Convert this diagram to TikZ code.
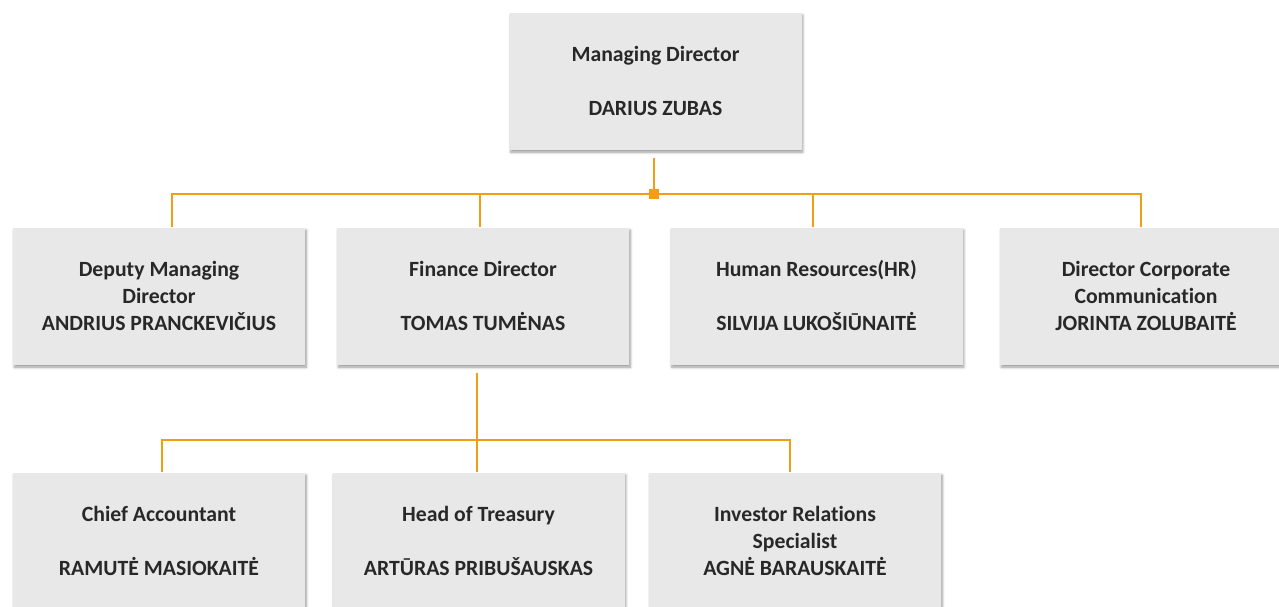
\documentclass[tikz,border=0pt]{standalone}
\usepackage{fontspec}
\setmainfont{Carlito}[Ligatures=NoCommon]
\usepackage{xcolor}
\usetikzlibrary{calc,shadows.blur}
\definecolor{boxgray}{RGB}{232,232,232}
\definecolor{linkorange}{RGB}{242,157,22}
\definecolor{txtgray}{RGB}{40,40,40}
\tikzset{
  post/.style={fill=boxgray, text=txtgray, minimum width=219pt, minimum height=102.75pt,
    inner sep=0pt, align=center, font=\bfseries\fontsize{16.3}{20.25}\selectfont,
    blur shadow={shadow xshift=1pt, shadow yshift=-2pt, shadow blur steps=6, shadow opacity=40}},
  link/.style={draw=linkorange, line width=1.7pt},
  hubsq/.style={fill=linkorange, minimum size=7.5pt, inner sep=0pt}
}

\begin{document}
\begin{tikzpicture}[line cap=butt,line join=miter,x=0.75pt,y=-0.75pt]
                \useasboundingbox (0,0) rectangle (1279,607);
                \node[post] (md) at (655.5,81) {Managing Director\\\mbox{}\\DARIUS ZUBAS};
                \node[post] (dep) at (159,296) {Deputy Managing\\Director\\ANDRIUS PRANCKEVIČIUS};
                \node[post] (fin) at (483,296) {Finance Director\\\mbox{}\\TOMAS TUMĖNAS};
                \node[post] (hr) at (816.5,296) {Human Resources(HR)\\\mbox{}\\SILVIJA LUKOŠIŪNAITĖ};
                \node[post] (comm) at (1146,296) {Director Corporate\\Communication\\JORINTA ZOLUBAITĖ};
                \node[post] (chief) at (159,541) {Chief Accountant\\\mbox{}\\RAMUTĖ MASIOKAITĖ};
                \node[post] (treas) at (478.5,541) {Head of Treasury\\\mbox{}\\ARTŪRAS PRIBUŠAUSKAS};
                \node[post] (inv) at (795,541) {Investor Relations\\Specialist\\AGNĖ BARAUSKAITĖ};
                \coordinate (hub) at ($(md.south)+(-1.5,44)$);
                \coordinate (bus) at ($(fin.south)+(-6,75)$);
                \draw[link, shorten <=6pt] (md.south -| hub) -- (hub);
                \draw[link] (hub) -| ([xshift=9.75pt]dep.north);
                \draw[link] (hub) -| ([xshift=-2.25pt]fin.north);
                \draw[link] (hub) -| ([xshift=-2.6pt]hr.north);
                \draw[link] (hub) -| ([xshift=-3.75pt]comm.north);
                \node[hubsq] (hubmark) at (hub) {};
                \draw[link, shorten <=6pt] (fin.south -| bus) -- (bus);
                \draw[link] (bus) -| ([xshift=2.25pt]chief.north);
                \draw[link] (bus) -| ([xshift=-1.1pt]treas.north);
                \draw[link] (bus) -| ([xshift=-3.75pt]inv.north);
            \end{tikzpicture}
\end{document}
